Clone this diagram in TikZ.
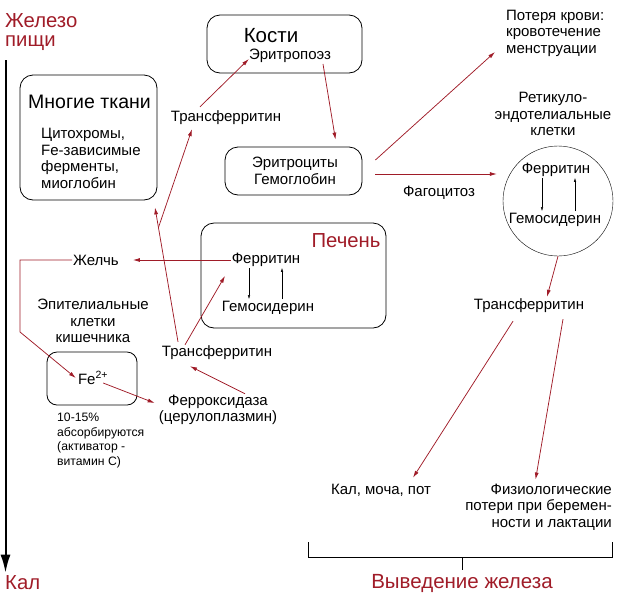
\documentclass[tikz,border=0pt]{standalone}
\usepackage{fontspec}
\setmainfont{Liberation Sans}
\usetikzlibrary{positioning,arrows.meta}
\definecolor{ironred}{RGB}{160,28,40}
\tikzset{organ/.style={draw,thick,rounded corners=13pt}}
\tikzset{txt/.style={font=\fontsize{15}{16.6}\selectfont,align=center,inner sep=1pt}}
\tikzset{small/.style={font=\fontsize{12.2}{14.6}\selectfont,align=left,inner sep=0pt}}
\tikzset{redtitle/.style={font=\fontsize{20.3}{19}\selectfont,text=ironred,inner sep=0pt}}
\tikzset{flow/.style={draw,ironred,line width=0.75pt,->}}
\tikzset{swap/.style={draw,thin,-{Latex[length=4pt,width=2.5pt]}}}

\begin{document}
\begin{tikzpicture}[x=1pt,y=-1pt,>={Latex[length=7pt,width=4pt]}]
        \useasboundingbox (0,0) rectangle (620,600);
        % food iron down to feces
        \node[redtitle,align=left,anchor=north west] (food) at (5,13) {Железо\\пищи};
        \node[redtitle,anchor=west] (feces) at (5,583) {Кал};
        \path[draw,line width=2pt,-{Latex[length=18pt,width=10pt]}] ([xshift=0.5pt,yshift=-10pt]food.south west) -- ([xshift=0.5pt,yshift=3pt]feces.north west);

        % boxes
        \node[organ,minimum width=137pt,minimum height=125pt] (tissues) at (88.5,137.5) {};
        \node[txt,font=\fontsize{19.5}{18}\selectfont] (tissuesT) at (89.5,102) {Многие ткани};
        \node[txt,align=left,anchor=north west] (enz) at (40,127) {Цитохромы,\\Fe-зависимые\\ферменты,\\миоглобин};
        \node[organ,minimum width=155pt,minimum height=58pt] (bones) at (284.5,44) {};
        \node[txt,font=\fontsize{20.5}{19}\selectfont] (bonesT) at (271,36) {Кости};
        \node[txt] (erythro) at (290,56) {Эритропоэз};
        \node[organ,minimum width=137pt,minimum height=48pt] (rbc) at (293.5,171) {};
        \node[txt] (rbcT) at (295,171) {Эритроциты\\Гемоглобин};
        \node[organ,minimum width=185pt,minimum height=105pt] (liver) at (293.5,275.5) {};
        \node[redtitle] (liverT) at (346,241) {Печень};
        \node[txt] (lfer) at (266,260) {Ферритин};
        \node[txt] (lhem) at (268,308) {Гемосидерин};
            \path[swap] ([xshift=-17pt]lfer.south) -- ([xshift=-17pt,yshift=1pt]lfer.south |- lhem.north);
            \path[swap] ([xshift=16pt,yshift=1pt]lfer.south |- lhem.north) -- ([xshift=16pt]lfer.south);
        \node[organ,rounded corners=10pt,minimum width=90pt,minimum height=53pt] (febox) at (92,378.5) {};
        \node[txt] (fe) at (93,378) {Fe\textsuperscript{2+}};

        % re cells
        \node[txt] (retl) at (553,114) {Ретикуло-\\эндотелиальные\\клетки};
        \node[draw,thin,circle,minimum size=110pt] (re) at (558,201) {};
        \node[txt] (rfer) at (556,170) {Ферритин};
        \node[txt] (rhem) at (555,220) {Гемосидерин};
            \path[swap] ([xshift=-14pt]rfer.south) -- ([xshift=-14pt,yshift=1pt]rfer.south |- rhem.north);
            \path[swap] ([xshift=19pt,yshift=1pt]rfer.south |- rhem.north) -- ([xshift=19pt]rfer.south);

        % labels
        \node[txt] (tf1) at (226,118) {Трансферритин};
        \node[txt] (tf2) at (217,353) {Трансферритин};
        \node[txt] (tf3) at (529,306) {Трансферритин};
        \node[txt] (bile) at (96,260) {Желчь};
        \node[txt] (epi) at (93,321) {Эпителиальные\\клетки\\кишечника};
        \node[txt] (fox) at (218,410) {Ферроксидаза\\(церулоплазмин)};
        \node[small,anchor=north west] (absn) at (57,413) {10-15\%\\абсорбируются\\(активатор -\\витамин С)};
        \node[txt,align=left,anchor=west] (loss) at (505,33) {Потеря крови:\\кровотечение\\менструации};
        \node[txt] (phago) at (439,193) {Фагоцитоз};
        \node[txt] (excr) at (381,490) {Кал, моча, пот};
        \node[txt,align=right,anchor=east] (phys) at (613,507) {Физиологические\\потери при беремен-\\ности и лактации};
        \node[redtitle,font=\fontsize{20.5}{20}\selectfont] (out) at (462,583) {Выведение железа};

        % red flows
        \path[flow] ([xshift=-39pt,yshift=3pt]tf2.north) -- ([xshift=66.5pt,yshift=-7pt]tissues.south) coordinate[pos=0.85] (split);
        \path[flow] (split) -- ([xshift=-34pt,yshift=-3pt]tf1.south);
        \path[flow] ([xshift=-26pt,yshift=3pt]tf1.north) -- ([xshift=1pt,yshift=-3pt]erythro.west);
        \path[flow] ([xshift=33pt]erythro.south) -- ([xshift=42pt,yshift=7pt]rbc.north);
        \path[flow] ([xshift=13pt,yshift=11pt]rbc.east) -- ([xshift=-10pt,yshift=-19pt]loss.west);
        \path[flow] ([xshift=13pt,yshift=-3pt]rbc.east) -- ([xshift=-6pt,yshift=27pt]re.west);
        \path[flow] (re.south) -- ([xshift=18pt,yshift=1pt]tf3.north);
        \path[flow] ([xshift=-16pt,yshift=-7pt]tf3.south) -- ([xshift=32pt,yshift=5pt]excr.north);
        \path[flow] ([xshift=34pt,yshift=-5pt]tf3.south) -- ([xshift=-3pt,yshift=3pt]phys.north);
        \path[flow] (lfer.west) -- ([xshift=13pt]bile.east);
        \path[flow] (bile.west) -- ++(-52,0) -- ++(0,72) -- ([xshift=-1pt]fe.west);
        \path[flow] ([xshift=-6pt,yshift=-5pt]fe.east) -- ([xshift=-3pt,yshift=7pt]fox.west);
        \path[flow] ([xshift=27pt]fox.north) -- ([xshift=-27pt,yshift=-5pt]tf2.south);
        \path[flow] ([xshift=-32pt]tf2.north) -- ([xshift=-41pt,yshift=-8pt]lfer.south);

        % excretion bracket
        \coordinate (brl) at (308,542);
        \coordinate (brr) at (612,542);
        \draw[thick] (brl) -- ++(0,15) coordinate (brb) -| (brr);
        \draw[thick] (brb -| out.north) -- ([yshift=4pt]out.north);
    \end{tikzpicture}
\end{document}
